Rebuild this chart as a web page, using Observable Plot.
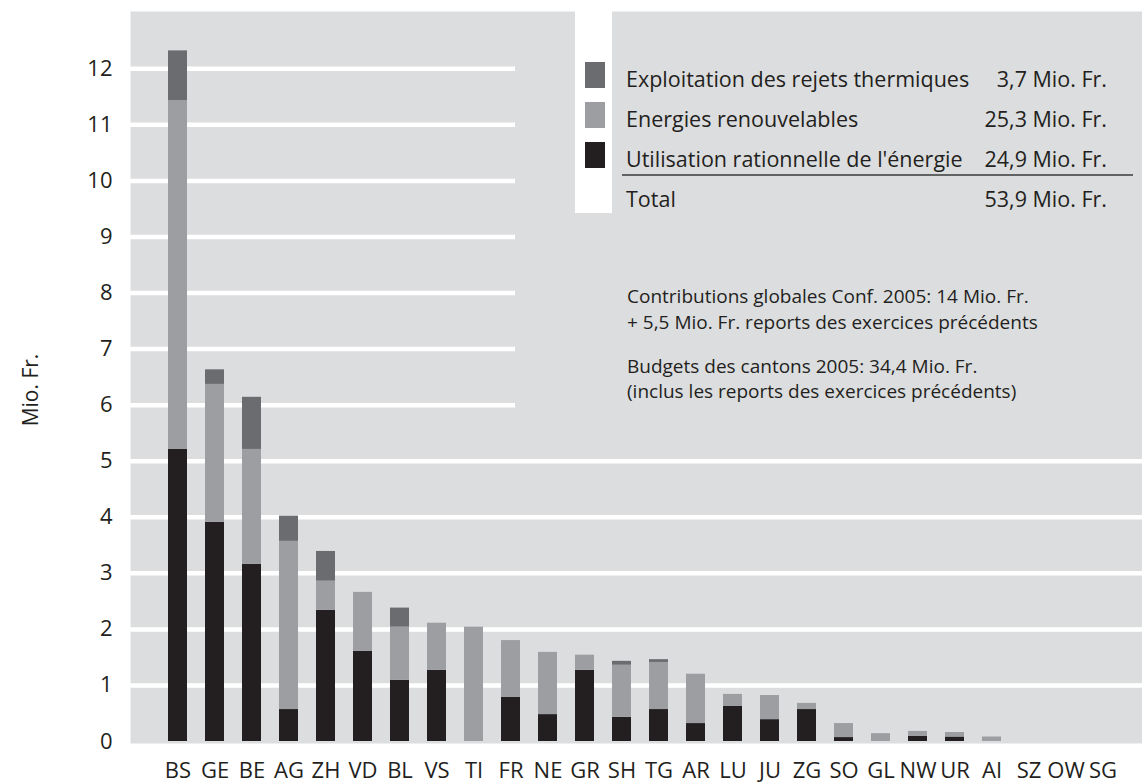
<!DOCTYPE html>
<html>
<head>
<meta charset="utf-8">
<script src="https://cdn.jsdelivr.net/npm/d3@7"></script>
<script src="https://cdn.jsdelivr.net/npm/@observablehq/plot@0.6"></script>
<style>
  html, body { margin: 0; padding: 0; background: #fff; }
  #wrap { position: relative; width: 1142px; height: 783px; font-family: "Open Sans", sans-serif; color: #231f20; }
  #wrap svg { position: absolute; left: 0; top: 0; }
</style>
</head>
<body>
<div id="wrap"></div>
<script>
// ---- data ----
const cantons = ["BS","GE","BE","AG","ZH","VD","BL","VS","TI","FR","NE","GR","SH","TG","AR","LU","JU","ZG","SO","GL","NW","UR","AI","SZ","OW","SG"];
const seriesNames = ["Utilisation rationnelle de l'énergie", "Energies renouvelables", "Exploitation des rejets thermiques"];
const utilisation   = [5.21,3.91,3.16,0.57,2.34,1.61,1.09,1.27,0,0.79,0.48,1.27,0.43,0.57,0.32,0.63,0.39,0.57,0.07,0,0.09,0.08,0,0,0,0];
const renouvelables = [6.22,2.46,2.05,3.00,0.52,1.05,0.95,0.84,2.04,1.01,1.11,0.27,0.93,0.84,0.88,0.21,0.43,0.11,0.25,0.14,0.09,0.08,0.08,0,0,0];
const rejets        = [0.89,0.26,0.93,0.45,0.53,0,0.34,0,0,0,0,0,0.07,0.05,0,0,0,0,0,0,0,0,0,0,0,0];
const seriesTotals = ["24,9 Mio. Fr.", "25,3 Mio. Fr.", "3,7 Mio. Fr."];
const totalLabel = "Total";
const totalValue = "53,9 Mio. Fr.";
const yTicks = [0,1,2,3,4,5,6,7,8,9,10,11,12];
const gridFull = [1,2,3,4,5];
const gridShort = [6,7,8,9,10,11,12];
const notes = [
  "Contributions globales Conf. 2005: 14 Mio. Fr.",
  "+ 5,5 Mio. Fr. reports des exercices précédents",
  "Budgets des cantons 2005: 34,4 Mio. Fr.",
  "(inclus les reports des exercices précédents)"
];
const colors = ["#231f20", "#9d9ea1", "#6b6c6f"];
const yLabel = "Mio. Fr.";

// ---- table ----
const seriesValues = [utilisation, renouvelables, rejets];
const rows = [];
seriesNames.forEach((s, si) => cantons.forEach((c, ci) => rows.push({canton: c, series: s, value: seriesValues[si][ci]})));

const W = 1142, H = 783;
const chart = Plot.plot({
  width: W, height: H,
  marginLeft: 130, marginRight: 0, marginTop: 11, marginBottom: 40,
  style: {fontFamily: "'Open Sans', sans-serif", color: "#231f20", background: "transparent"},
  x: {type: "band", domain: cantons, range: [148.6, 1129.9], paddingInner: 0.5, paddingOuter: 0.25, align: 0.5},
  y: {domain: [0, 12], range: [741, 68.3]},
  color: {domain: seriesNames, range: colors},
  marks: [
    Plot.frame({fill: "#dcdddf", stroke: null}),
    Plot.ruleY(gridFull, {stroke: "white", strokeWidth: 4.5}),
    Plot.ruleY(gridShort, {stroke: "white", strokeWidth: 4.5, insetRight: 627}),
    Plot.barY(rows, {x: "canton", y: "value", fill: "series", order: seriesNames}),
    Plot.axisY(yTicks, {tickSize: 0, tickPadding: 18, fontSize: 22, tickFormat: d => String(d), label: null}),
    Plot.axisX({tickSize: 0, tickPadding: 19, fontSize: 22, label: null})
  ]
});
document.getElementById("wrap").appendChild(chart);

// ---- legend & notes overlay ----
const ov = d3.select("#wrap").append("svg").attr("width", W).attr("height", H)
  .style("font-family", "'Open Sans', sans-serif");
ov.append("text").attr("transform", "translate(38,390) rotate(-90)").attr("text-anchor", "middle")
  .attr("font-size", 21).attr("fill", "#231f20").text(yLabel);
ov.append("rect").attr("x", 575).attr("y", 11).attr("width", 37).attr("height", 202).attr("fill", "white");
const legendOrder = [2, 1, 0];
legendOrder.forEach((si, i) => {
  const base = 87 + i * 40;
  ov.append("rect").attr("x", 585).attr("y", base - 25).attr("width", 20).attr("height", 26).attr("fill", colors[si]);
  ov.append("text").attr("x", 626).attr("y", base).attr("font-size", 21.5).attr("fill", "#231f20").text(seriesNames[si]);
  ov.append("text").attr("x", 1107).attr("y", base).attr("font-size", 21.5).attr("fill", "#231f20").attr("text-anchor", "end").text(seriesTotals[si]);
});
ov.append("line").attr("x1", 622).attr("x2", 1133).attr("y1", 175).attr("y2", 175).attr("stroke", "#3a3a3a").attr("stroke-width", 1.5);
ov.append("text").attr("x", 626).attr("y", 207).attr("font-size", 21.5).attr("fill", "#231f20").text(totalLabel);
ov.append("text").attr("x", 1107).attr("y", 207).attr("font-size", 21.5).attr("fill", "#231f20").attr("text-anchor", "end").text(totalValue);
const noteBase = [303, 329, 373, 398];
notes.forEach((t, i) => {
  ov.append("text").attr("x", 627).attr("y", noteBase[i]).attr("font-size", 19).attr("fill", "#231f20").text(t);
});
</script>
</body>
</html>
